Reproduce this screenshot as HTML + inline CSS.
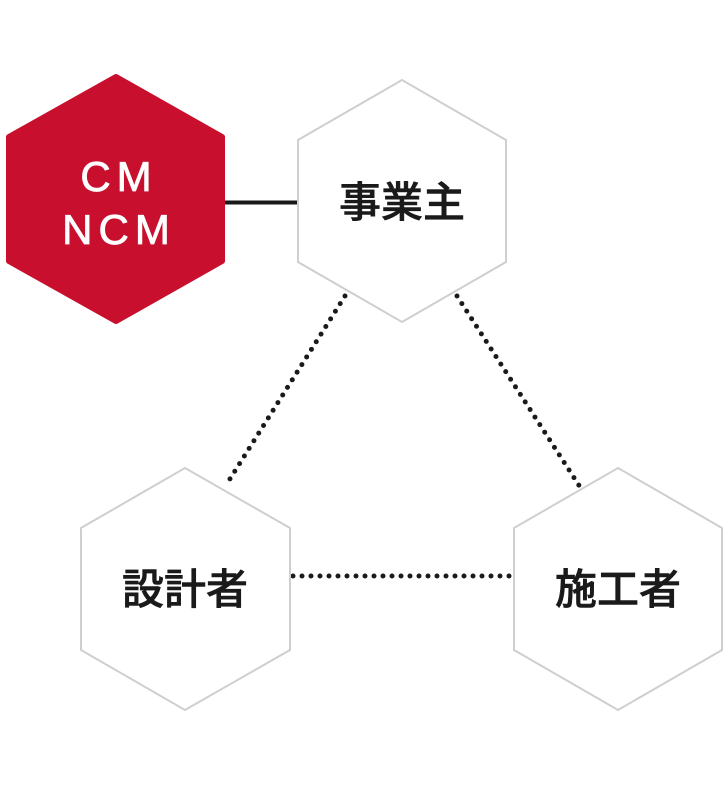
<!DOCTYPE html>
<html><head><meta charset="utf-8"><style>
html,body{margin:0;padding:0;background:#fff;}
svg{display:block;}
</style></head><body>
<svg width="728" height="788" viewBox="0 0 728 788" xmlns="http://www.w3.org/2000/svg">
<line x1="224" y1="202.5" x2="299" y2="202.5" stroke="#1a1a1a" stroke-width="4"/>
<g stroke="#1a1a1a" stroke-width="5" stroke-linecap="round" stroke-dasharray="0 9" fill="none">
<line x1="345" y1="296" x2="228" y2="482"/>
<line x1="457" y1="296" x2="580" y2="487"/>
<line x1="293" y1="576" x2="512" y2="576"/>
</g>
<path d="M116 77 L222 137 L222 261 L116 321 L9 261 L9 137 Z" fill="#c8102e" stroke="#c8102e" stroke-width="6" stroke-linejoin="round"/>
<g fill="#fff" stroke="#cfcfcf" stroke-width="2">
<path d="M402 80 L506 140 L506 262 L402 322 L298 262 L298 140 Z"/>
<path d="M185 468 L290 528 L290 650 L185 710 L81 650 L81 528 Z"/>
<path d="M618 468 L722 528 L722 650 L618 710 L514 650 L514 528 Z"/>
</g>
<g font-family="Liberation Sans, sans-serif" fill="#fff" stroke="#fff" stroke-width="0.8" font-size="42" text-anchor="middle" letter-spacing="6">
<text x="119" y="191">CM</text>
<text x="119" y="244">NCM</text>
</g>
<g font-family="'Liberation Sans','Noto Sans CJK JP',sans-serif" fill="#1a1a1a" stroke="#1a1a1a" stroke-width="0.6" font-size="42" font-weight="500" text-anchor="middle">
<text x="402" y="217">事業主</text>
<text x="185" y="604">設計者</text>
<text x="618" y="604">施工者</text>
</g>
</svg>
</body></html>
